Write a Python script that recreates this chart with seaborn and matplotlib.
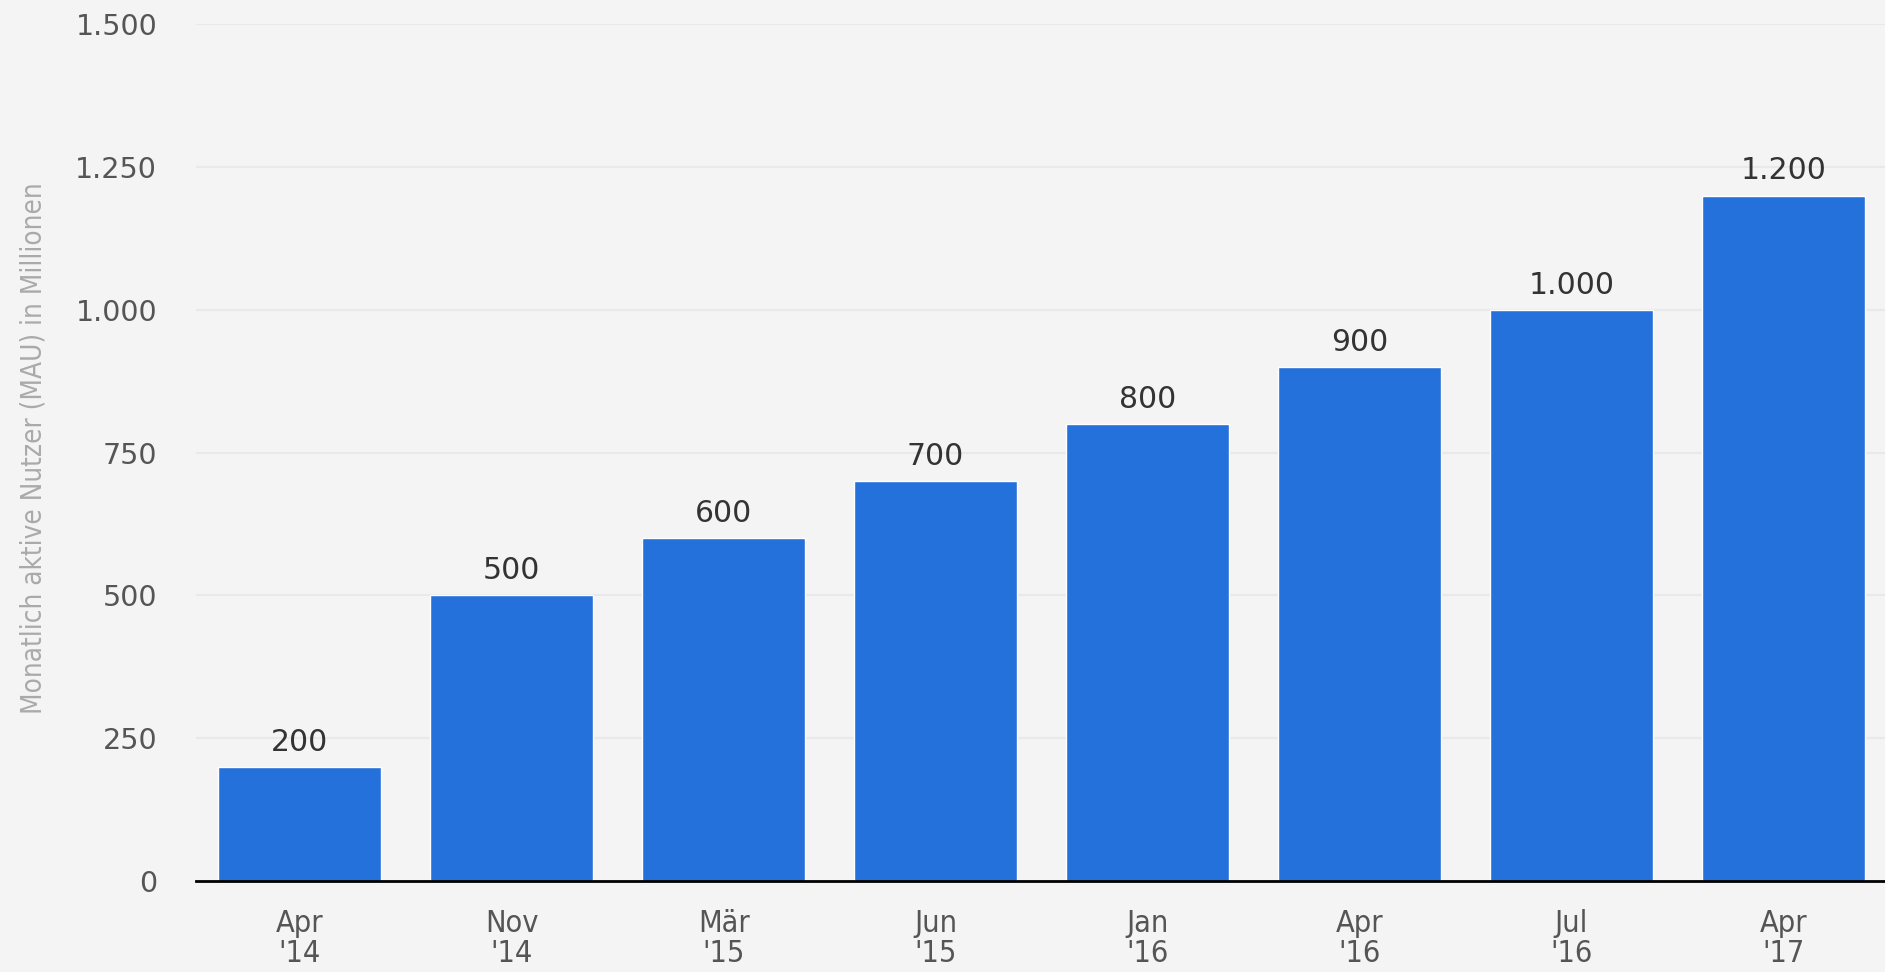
import matplotlib
matplotlib.use('Agg')
import matplotlib.pyplot as plt
import seaborn as sns
import pandas as pd
from matplotlib.ticker import FuncFormatter

# Daten
MONATE = ['Apr', 'Nov', 'Mär', 'Jun', 'Jan', 'Apr', 'Jul', 'Apr']
JAHRE  = ["'14", "'14", "'15", "'15", "'16", "'16", "'16", "'17"]
NUTZER = [200, 500, 600, 700, 800, 900, 1000, 1200]
Y_TICKS = [0, 250, 500, 750, 1000, 1250, 1500]

labels = [f"{m}\n{j}" for m, j in zip(MONATE, JAHRE)]
df = pd.DataFrame({'periode': labels, 'nutzer': NUTZER})

def de_format(v, pos=None):
    return f"{int(v):,}".replace(',', '.')

sns.set_theme(style="white")
plt.rcParams['font.family'] = ['DejaVu Sans']
BG = '#f4f4f4'

fig = plt.figure(figsize=(18.85, 9.72), dpi=100, facecolor=BG)
ax = fig.add_axes([0.104, 0.0936, 0.896, 0.8814])
ax.set_facecolor(BG)

sns.barplot(x='periode', y='nutzer', data=df, ax=ax, color='#2571dc',
            saturation=1, width=0.77)

ax.set_ylim(0, 1500)
ax.set_xlim(-0.49, 7.48)
ax.set_yticks(Y_TICKS)
ax.yaxis.set_major_formatter(FuncFormatter(de_format))
ax.grid(axis='y', color='#e9e9e9', linewidth=1.5)
ax.set_axisbelow(True)

for s in ['top', 'right', 'left']:
    ax.spines[s].set_visible(False)
ax.spines['bottom'].set_color('black')
ax.spines['bottom'].set_linewidth(2)

ax.tick_params(axis='y', length=0, pad=28, labelsize=20.5, labelcolor='#555555')
ax.tick_params(axis='x', length=0, pad=20, labelsize=22, labelcolor='#555555')
for t in ax.get_xticklabels():
    t.set_fontstretch('condensed')
    t.set_linespacing(1.05)

for p, v in zip(ax.patches, NUTZER):
    ax.text(p.get_x() + p.get_width() / 2, v + 18, de_format(v),
            ha='center', va='bottom', fontsize=21.5, color='#333333')

ax.set_xlabel('')
ax.set_ylabel('Monatlich aktive Nutzer (MAU) in Millionen', fontsize=20,
              color='#aaaaaa', fontstretch='condensed', labelpad=0)
ax.yaxis.set_label_coords(-0.088, 0.505)

plt.savefig('out.png', dpi=100, facecolor=BG)
